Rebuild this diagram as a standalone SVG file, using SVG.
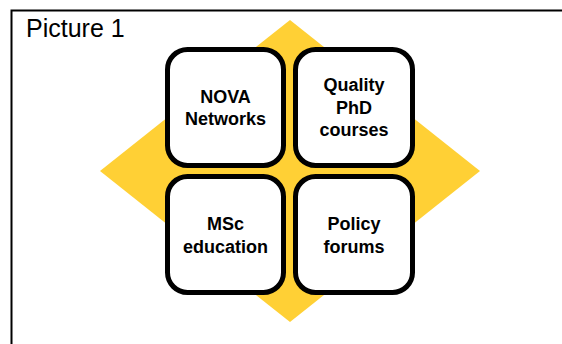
<svg xmlns="http://www.w3.org/2000/svg" width="562" height="344" viewBox="0 0 562 344">
<style>
.box{fill:#fff;stroke:#000;stroke-width:5}
.lbl{font-family:"Liberation Sans",Arial,sans-serif;font-weight:bold;font-size:18px;fill:#000;text-anchor:middle}
</style>
<rect x="0" y="0" width="562" height="344" fill="#fff"/>
<path d="M11.5 344 V10.5 H562" fill="none" stroke="#000" stroke-width="2"/>
<text x="26" y="37" font-family="'Liberation Sans',Arial,sans-serif" font-size="25" fill="#000">Picture 1</text>
<polygon points="290,20 480,171 290,322 100,171" fill="#ffd035"/>
<g id="nova"><rect class="box" x="167.5" y="49.5" width="116" height="116" rx="20"/><text class="lbl" x="225.5" y="103">NOVA</text><text class="lbl" x="225.5" y="125">Networks</text></g>
<g id="phd"><rect class="box" x="295.5" y="49.5" width="117" height="116" rx="20"/><text class="lbl" x="354" y="91">Quality</text><text class="lbl" x="354" y="114">PhD</text><text class="lbl" x="354" y="136">courses</text></g>
<g id="msc"><rect class="box" x="167.5" y="176.5" width="116" height="116" rx="20"/><text class="lbl" x="225.5" y="230">MSc</text><text class="lbl" x="225.5" y="253">education</text></g>
<g id="policy"><rect class="box" x="295.5" y="176.5" width="117" height="116" rx="20"/><text class="lbl" x="354" y="230">Policy</text><text class="lbl" x="354" y="253">forums</text></g>
<g id="connectors"></g>
</svg>
